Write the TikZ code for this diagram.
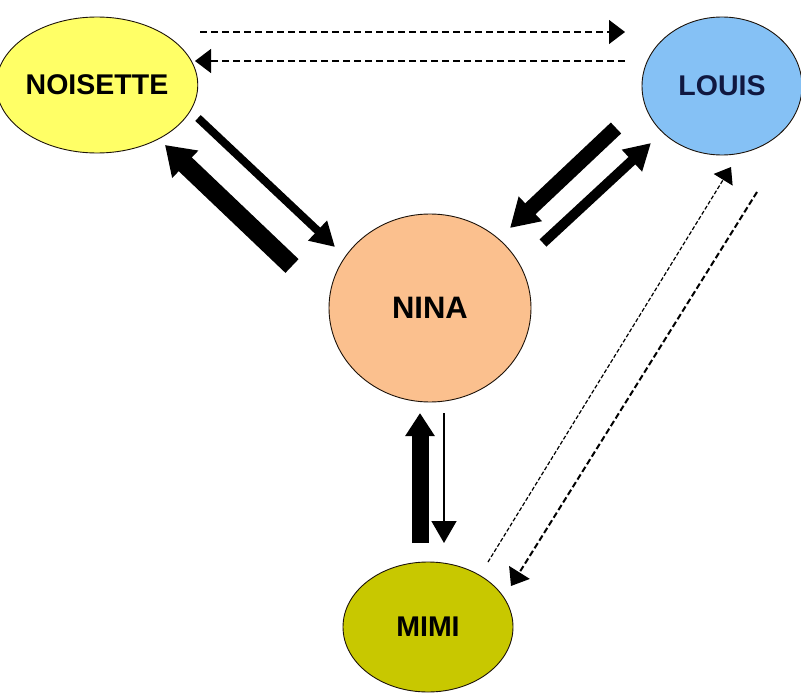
\documentclass[tikz,border=0pt]{standalone}
\usepackage{fontspec}
\setmainfont{Liberation Sans}
\usetikzlibrary{arrows.meta,shapes.geometric}
\definecolor{cnoisette}{HTML}{FFFF66}
\definecolor{clouis}{HTML}{85C1F5}
\definecolor{cnina}{HTML}{FBC08E}
\definecolor{cmimi}{HTML}{C8C800}
\definecolor{cnavy}{HTML}{101840}
\tikzset{
  person/.style={ellipse, draw=black!85!brown, line width=0.9pt, inner sep=0pt,
    font=\fontsize{28.5}{30}\selectfont\bfseries},
  dashlink/.style={line width=1.2pt, dash pattern=on 7pt off 4pt,
    -{Triangle[width=24pt,length=16pt]}},
  finelink/.style={line width=1.2pt, dash pattern=on 4pt off 2pt,
    -{Triangle[width=22pt,length=15pt]}},
  heavylink/.style={line width=2pt, dash pattern=on 6pt off 3pt,
    -{Triangle[width=24pt,length=16pt]}},
}
\begin{document}
\begin{tikzpicture}[x=1pt,y=-1pt]
\useasboundingbox[fill=white] (0,0) rectangle (801,693);
\node[person, fill=cnoisette, minimum width=170pt, minimum height=136pt] (noisette) at (97,85) {NOISETTE};
\node[person, fill=clouis, minimum width=160pt, minimum height=138pt, text=cnavy] (louis) at (722,86) {LOUIS};
\node[person, fill=cnina, minimum width=202pt, minimum height=188pt, font=\fontsize{31}{33}\selectfont\bfseries] (nina) at (430,308) {NINA};
\node[person, fill=cmimi, minimum width=170pt, minimum height=130pt] (mimi) at (428,627) {MIMI};

% endpoints
\coordinate (a1) at (200,32);  \coordinate (b1) at (625,32);
\coordinate (a2) at (625,61);  \coordinate (b2) at (195,61);
\coordinate (a3) at (198,118); \coordinate (b3) at (335,247);
\coordinate (a4) at (292,266); \coordinate (b4) at (165,145);
\coordinate (a5) at (616,128); \coordinate (b5) at (510,228);
\coordinate (a6) at (543,243); \coordinate (b6) at (651,143);
\coordinate (a7) at (444,413); \coordinate (b7) at (444,543);
\coordinate (a8) at (420,543); \coordinate (b8) at (420,413);
\coordinate (a9) at (488,562); \coordinate (b9) at (731,167);
\coordinate (a10) at (757,192); \coordinate (b10) at (511,586);

\draw[dashlink] (a1) -- (b1);
\draw[dashlink] (a2) -- (b2);
\draw[line width=8pt, -{Triangle[width=26pt,length=24pt]}] (a3) -- (b3);
\draw[line width=19pt, -{Triangle[width=36pt,length=28pt]}] (a4) -- (b4);
\draw[line width=15pt, -{Triangle[width=32pt,length=28pt]}] (a5) -- (b5);
\draw[line width=10pt, -{Triangle[width=28pt,length=26pt]}] (a6) -- (b6);
\draw[line width=1.5pt, -{Triangle[width=25pt,length=22pt]}] (a7) -- (b7);
\draw[line width=17pt, -{Triangle[width=28pt,length=23pt]}] (a8) -- (b8);
\draw[finelink] (a9) -- (b9);
\draw[heavylink] (a10) -- (b10);
\end{tikzpicture}
\end{document}
